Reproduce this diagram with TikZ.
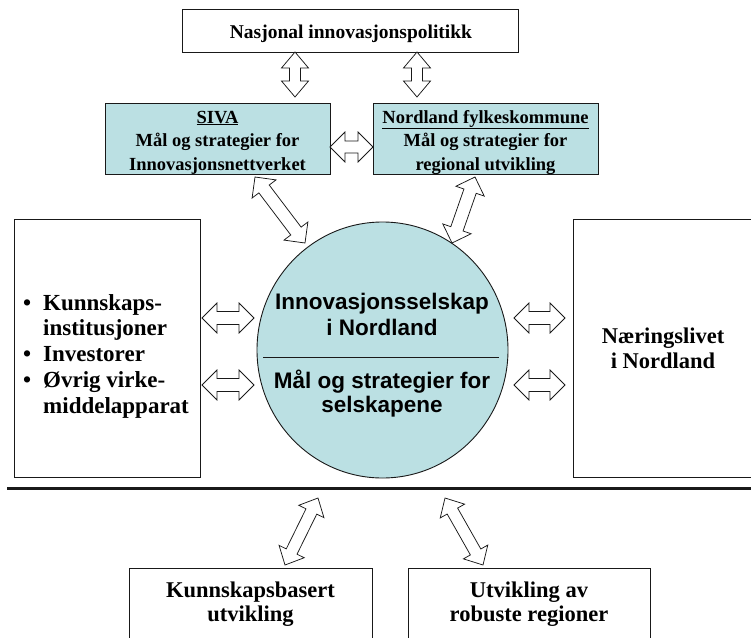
\documentclass[tikz,border=0pt]{standalone}
\usepackage{fontspec}
\setmainfont{Liberation Serif}
\setsansfont{Liberation Sans}
\usetikzlibrary{calc,shapes.geometric}
\definecolor{boxfill}{RGB}{187,224,227}
\definecolor{edge}{RGB}{25,25,25}
\newcommand{\fsz}[2]{\fontsize{#1}{#2}\selectfont}
% double block arrow: #1 start, #2 end, #3 shaft half width, #4 head half width, #5 head length
\newcommand{\dblarr}[5]{%
  \draw[blockarr] (#1)
    -- ($(#1)!#5!(#2)!#4!90:(#2)$) -- ($(#1)!#5!(#2)!#3!90:(#2)$)
    -- ($(#2)!#5!(#1)!#3!-90:(#1)$) -- ($(#2)!#5!(#1)!#4!-90:(#1)$)
    -- (#2)
    -- ($(#2)!#5!(#1)!#4!90:(#1)$) -- ($(#2)!#5!(#1)!#3!90:(#1)$)
    -- ($(#1)!#5!(#2)!#3!-90:(#2)$) -- ($(#1)!#5!(#2)!#4!-90:(#2)$)
    -- cycle;}
\begin{document}
\begin{tikzpicture}[x=1pt,y=-1pt,
  box/.style={draw=edge, line width=0.9pt, inner sep=0pt, rectangle},
  tint/.style={box, fill=boxfill},
  txt/.style={inner sep=0pt, align=center, font=\bfseries\fsz{22.5}{25}},
  blockarr/.style={draw=edge, fill=white, line width=0.75pt, line join=miter}]
\useasboundingbox (0,0) rectangle (751,637);

% boxes
\node[box, minimum width=336pt, minimum height=43pt] (nat) at (350,30.5) {};
\node[tint, minimum width=225pt, minimum height=71pt] (siva) at (217.5,138.5) {};
\node[tint, minimum width=225pt, minimum height=71pt] (nfk) at (485.5,138.5) {};
\node[box, minimum width=186pt, minimum height=258pt] (left) at (107,348) {};
\node[box, minimum width=197pt, minimum height=258pt] (right) at (671.5,348) {};
\node[draw=edge, line width=0.9pt, fill=boxfill, ellipse, inner sep=0pt,
      minimum width=251pt, minimum height=256pt] (circ) at (382.5,350) {};
\node[box, minimum width=243pt, minimum height=84pt] (kb) at (250.5,610) {};
\node[box, minimum width=242pt, minimum height=84pt] (ur) at (529,610) {};

% separator and divider
\coordinate (sepL) at (7,488);
\coordinate (sepR) at (760,488);
\draw[line width=3pt, edge] (sepL) -- (sepR);
\coordinate (divL) at (263,357);
\coordinate (divR) at (499,357);
\draw[line width=0.9pt, edge] (divL) -- (divR);

% texts
\node[txt, font=\bfseries\fsz{19.5}{23}] (natT) at (351,33.5) {\strut Nasjonal innovasjonspolitikk\strut};
\node[txt, font=\bfseries\fsz{18.5}{23.5}] (sivaT) at (217.5,141.8)
  {\strut\underline{SIVA}\\Mål og strategier for\\Innovasjonsnettverket\strut};
\node[txt, font=\bfseries\fsz{18.5}{23.5}] (nfkT) at (485.5,141.8)
  {\strut\underline{Nordland fylkeskommune}\\Mål og strategier for\\regional utvikling\strut};
\node[txt, align=left, font=\bfseries\fsz{23}{25.75}, anchor=west] (leftT) at (23,356.35)
  {\strut\makebox[20pt][l]{•}Kunnskaps-\\
   \hspace*{20pt}institusjoner\\
   \makebox[20pt][l]{•}Investorer\\
   \makebox[20pt][l]{•}Øvrig virke-\\
   \hspace*{20pt}middelapparat\strut};
\node[txt] (rightT) at (663,350.5) {\strut Næringslivet\\i Nordland\strut};
\node[txt, font=\sffamily\bfseries\fsz{22.5}{26}] (circT1) at (382,316.8)
  {\strut Innovasjonsselskap\\i Nordland\strut};
\node[txt, font=\sffamily\bfseries\fsz{22.5}{24}] (circT2) at (382,395.2)
  {\strut Mål og strategier for\\selskapene\strut};
\node[txt, font=\bfseries\fsz{22.5}{24}] (kbT) at (250.5,604.2) {\strut Kunnskapsbasert\\utvikling\strut};
\node[txt, font=\bfseries\fsz{22.5}{24}] (urT) at (529,604.2) {\strut Utvikling av\\robuste regioner\strut};

% arrow end points
\coordinate (v1a) at (295,52);  \coordinate (v1b) at (295,97);
\coordinate (v2a) at (417,52);  \coordinate (v2b) at (417,97);
\coordinate (ha) at (330,147);  \coordinate (hb) at (373,147);
\coordinate (d1a) at (255,177); \coordinate (d1b) at (305,243);
\coordinate (d2a) at (475,177); \coordinate (d2b) at (452,243);
\coordinate (l1a) at (202,318); \coordinate (l1b) at (254,318);
\coordinate (l2a) at (202,385); \coordinate (l2b) at (254,385);
\coordinate (r1a) at (514,318); \coordinate (r1b) at (565,318);
\coordinate (r2a) at (514,385); \coordinate (r2b) at (565,385);
\coordinate (b1a) at (318,498); \coordinate (b1b) at (285,565);
\coordinate (b2a) at (445,498); \coordinate (b2b) at (483,565);

\dblarr{v1a}{v1b}{5.5pt}{13.5pt}{16pt}
\dblarr{v2a}{v2b}{5.5pt}{13.5pt}{16pt}
\dblarr{ha}{hb}{6pt}{15pt}{15pt}
\dblarr{d1a}{d1b}{6.5pt}{15pt}{15pt}
\dblarr{d2a}{d2b}{6.5pt}{15pt}{15pt}
\dblarr{l1a}{l1b}{6.5pt}{15pt}{15pt}
\dblarr{l2a}{l2b}{6.5pt}{15pt}{15pt}
\dblarr{r1a}{r1b}{6.5pt}{15pt}{15pt}
\dblarr{r2a}{r2b}{6.5pt}{15pt}{15pt}
\dblarr{b1a}{b1b}{6pt}{14pt}{15pt}
\dblarr{b2a}{b2b}{6pt}{14pt}{15pt}
\end{tikzpicture}
\end{document}
